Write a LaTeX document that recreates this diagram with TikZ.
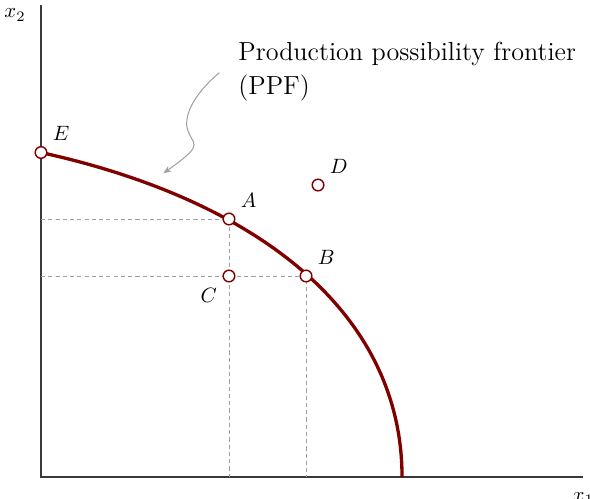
\documentclass[tikz,border=0pt]{standalone}
\usepackage{amsmath}
\usepackage{tikz}
\usetikzlibrary{arrows.meta}
\definecolor{frontiercolor}{HTML}{800000}
\definecolor{axiscolor}{HTML}{3A3A3A}
\definecolor{notecolor}{HTML}{A0A0A0}
\tikzset{
  ppf axis/.style={draw=axiscolor,line width=.7pt},
  ppf guide/.style={gray!75,thin,dash pattern=on 2pt off 1.5pt},
  ppf curve/.style={frontiercolor,line width=1.6pt},
  ppf point/.style={circle,draw=frontiercolor,fill=white,line width=.7pt,minimum size=5.6pt,inner sep=0pt},
  ppf note/.style={notecolor,line width=.5pt,-{Stealth[length=1.4mm,width=1.1mm]}}
}
\begin{document}
\begin{tikzpicture}
  \useasboundingbox (-.695,-.356) rectangle (9.305,8.085);
  \coordinate (O) at (0,0);
  \coordinate (ytop) at (0,8);
  \coordinate (xend) at (9.19,0);
  \coordinate (pE) at (0,5.5);
  \coordinate (pA) at (3.186,4.373);
  \coordinate (pB) at (4.492,3.407);
  \coordinate (pC) at (pA |- pB);
  \coordinate (pD) at (4.695,4.949);
  \coordinate (pF) at (6.119,0);
  \draw[ppf axis] (ytop) -- (O) -- (xend);
  \node (ylab) at (-.44,7.83) {$x_2$};
  \node[below,yshift=-4pt] (xlab) at (xend) {$x_1$};
  \draw[ppf guide] (pA -| O) -- (pA) -- (pA |- O);
  \draw[ppf guide] (pB -| O) -- (pB) -- (pB |- O);
  \draw[ppf curve] (pE) .. controls (3.8,4.664) and (6.119,2.7) .. (pF);
  \node[ppf point,label=above right:$E$] (E) at (pE) {};
  \node[ppf point,label=above right:$A$] (A) at (pA) {};
  \node[ppf point,label=above right:$B$] (B) at (pB) {};
  \node[ppf point,label=below left:$C$] (C) at (pC) {};
  \node[ppf point,label=above right:$D$] (D) at (pD) {};
  \node[anchor=north west,inner sep=0pt,align=left,font=\fontsize{12.6}{15}\selectfont] (note) at (3.339,7.37)
    {Production possibility frontier\\[1pt](PPF)};
  \coordinate (notefoot) at (3.022,6.853);
  \coordinate (notetip) at (2.073,5.147);
  \draw[ppf note] (notefoot) .. controls (2.7,6.58) and (2.45,6.25) .. (2.47,5.95)
    .. controls (2.53,5.6) and (2.85,5.7) .. (notetip);
\end{tikzpicture}
\end{document}
